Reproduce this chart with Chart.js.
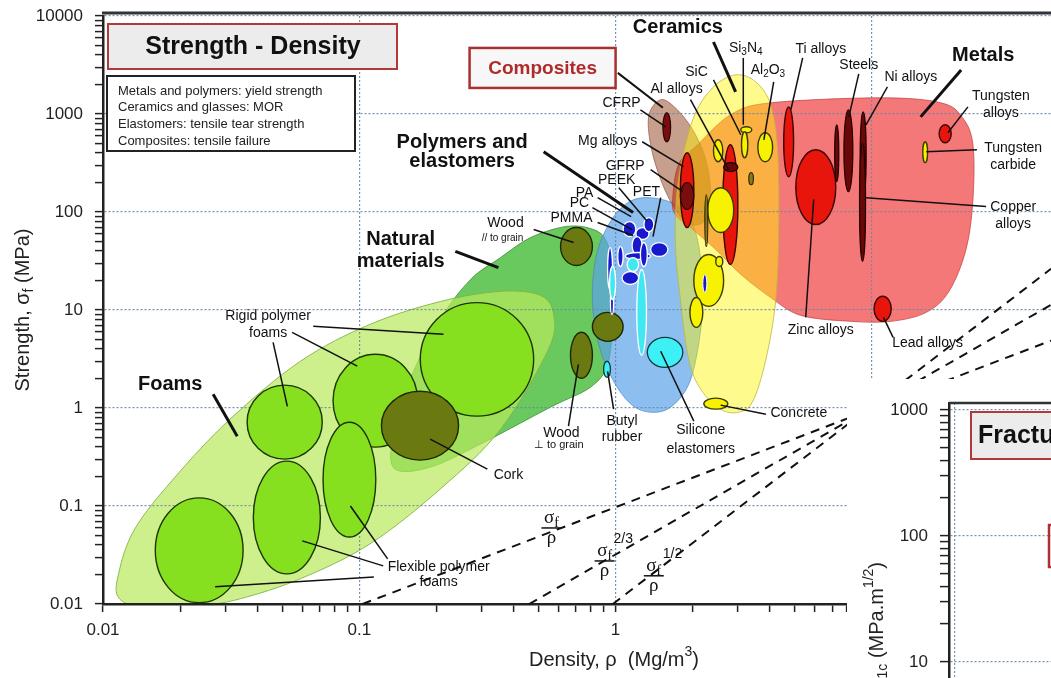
<!DOCTYPE html>
<html>
<head>
<meta charset="utf-8">
<title>Strength - Density</title>
<script src="https://cdn.jsdelivr.net/npm/chart.js@4.4.1/dist/chart.umd.min.js"></script>
<style>
  html, body { margin: 0; padding: 0; background: #fff; }
  #wrap { position: relative; width: 1051px; height: 678px; overflow: hidden; }
  #main { position: absolute; left: 0; top: 0; }
  #inset { position: absolute; left: 847px; top: 379px; background: #fff; }
</style>
</head>
<body>
<div id="wrap">
  <canvas id="main" width="1051" height="678"></canvas>
  <canvas id="inset" width="204" height="299"></canvas>
</div>
<script>
// values: density in Mg/m3, strength in MPa
const xTickLabels = ['0.01', '0.1', '1', '10'];
const yTickLabels = ['0.01', '0.1', '1', '10', '100', '1000', '10000'];
const insetTickLabels = ['10', '100', '1000'];

// family envelopes, outline points [density, strength]
const naturalEnvelope = [[0.138,0.238],[0.135,0.481],[0.158,1.96],[0.207,8.02],[0.272,20.5],[0.356,34.3],[0.466,54.8],[0.638,71],[0.798,67.8],[0.914,52.4],[0.973,25.9],[0.973,8.02],[0.931,2.79],[0.798,1.63],[0.557,1.02],[0.297,0.428],[0.189,0.249]];
const foamsEnvelope = [[0.0116,0.0113],[0.0115,0.0203],[0.0133,0.0583],[0.0191,0.197],[0.0313,0.769],[0.0589,3.0],[0.110,7.13],[0.207,12.2],[0.356,15.5],[0.509,14.1],[0.573,9.0],[0.547,3.97],[0.356,0.608],[0.207,0.149],[0.110,0.041],[0.0589,0.0181],[0.0343,0.0113],[0.0239,0.0096],[0.0153,0.0089]];
const polymersEnvelope = [[1.35,140],[1.71,119],[2.00,74.5],[2.15,32.8],[2.19,12.8],[2.11,4.47],[1.93,1.75],[1.64,1.02],[1.37,0.906],[1.15,1.09],[0.973,1.96],[0.859,4.47],[0.812,12.8],[0.843,36.8],[0.955,79.8],[1.12,125]];
const metalsEnvelope = [[1.67,134],[1.76,304],[2.09,485],[2.81,982],[4.03,1300],[10.8,1462],[18.6,1300],[22.6,914],[24.8,485],[24.8,134],[23.3,41.4],[20.0,15.5],[16.3,9.46],[11.9,7.66],[8.28,7.66],[5.28,8.81],[4.03,13.4],[3.08,23.1],[2.46,41.4],[1.96,69.4],[1.71,94.3]];
const compositesEnvelope = [[1.50,1397],[1.71,1156],[2.00,690],[2.25,342],[2.35,150],[2.25,83.7],[1.96,74.5],[1.71,106],[1.50,214],[1.37,485],[1.35,982]];
const ceramicsEnvelope = [[2.94,2508],[3.52,2128],[4.03,1242],[4.29,432],[4.33,66.2],[4.22,12.8],[3.86,3.14],[3.43,1.17],[3.02,0.906],[2.57,0.973],[2.15,1.55],[1.93,3.14],[1.79,12.8],[1.71,52.4],[1.76,214],[2.00,873],[2.39,1849]];

// material bubbles: [name, density low, density high, strength low, strength high]
const foamBubbles = [
  ['Rigid foam a', 0.173, 0.479, 0.826, 11.9],
  ['Rigid foam b', 0.079, 0.169, 0.399, 3.53],
  ['Rigid foam c', 0.0365, 0.0717, 0.301, 1.71],
  ['Flexible foam a', 0.0160, 0.0352, 0.0103, 0.121],
  ['Flexible foam b', 0.0386, 0.0705, 0.0203, 0.287],
  ['Flexible foam c', 0.0722, 0.116, 0.0483, 0.716]
];
const naturalBubbles = [
  ['Cork', 0.122, 0.244, 0.294, 1.48],
  ['Wood // grain', 0.610, 0.812, 28.5, 69.4],
  ['Wood perp grain', 0.667, 0.812, 2.01, 5.92],
  ['Wood low density', 0.812, 1.07, 4.79, 9.46]
];
const polymerBubbles = [
  ['Polymer a', 1.07, 1.20, 56.2, 79.8],
  ['Polymer b', 1.20, 1.35, 52.4, 69.4],
  ['PEEK', 1.29, 1.41, 63.1, 87.7],
  ['Polymer c', 1.16, 1.27, 36.8, 56.2],
  ['Polymer d', 1.37, 1.60, 35.2, 48.8],
  ['Polymer e', 1.09, 1.37, 32.8, 38.6],
  ['Polymer f', 1.02, 1.07, 27.8, 44.4],
  ['Polymer g', 1.25, 1.33, 27.8, 48.8],
  ['Polymer h', 0.931, 0.973, 16.2, 43.4],
  ['Polymer i', 1.06, 1.23, 18.2, 24.7],
  ['Polymer j', 0.955, 0.982, 9.0, 16.2]
];
const polymerLightBubbles = [
  ['Light a', 1.11, 1.23, 24.7, 34.3],
  ['Light b', 0.948, 1.0, 12.8, 27.8],
  ['Light c', 1.21, 1.32, 3.45, 25.9]
];
const elastomerBubbles = [
  ['Butyl rubber', 0.898, 0.955, 2.06, 3.0],
  ['Silicone elastomers', 1.33, 1.83, 2.60, 5.26]
];
const metalBubbles = [
  ['Mg alloys', 1.79, 2.02, 69.4, 403],
  ['Al alloys', 2.62, 3.00, 29.1, 485],
  ['Ti alloys', 4.53, 4.95, 229, 1183],
  ['Zinc alloys', 5.05, 7.23, 74.5, 432],
  ['Tungsten alloys', 18.3, 20.4, 509, 776],
  ['Lead alloys', 10.2, 11.9, 7.66, 13.8]
];
const darkMetalBubbles = [
  ['Al alloys core', 2.64, 3.00, 258, 319],
  ['Cast irons', 7.16, 7.43, 204, 776],
  ['Steels', 7.78, 8.43, 161, 1104],
  ['Ni alloys', 9.0, 9.5, 140, 1051],
  ['Copper alloys', 8.95, 9.45, 31.3, 500]
];
const compositeBubbles = [
  ['CFRP', 1.53, 1.64, 521, 1028],
  ['GFRP', 1.79, 2.02, 106, 199]
];
const ceramicBubbles = [
  ['Si3N4', 3.08, 3.40, 644, 741],
  ['SiC', 3.10, 3.28, 358, 659],
  ['Al2O3', 3.59, 4.10, 326, 644],
  ['Ceramic a', 2.41, 2.62, 326, 546],
  ['Ceramic b', 2.29, 2.89, 61.7, 177],
  ['Ceramic c', 2.02, 2.64, 10.9, 36.8],
  ['Ceramic d', 2.46, 2.62, 27.8, 35.2],
  ['Ceramic e', 1.95, 2.19, 6.65, 13.4],
  ['Concrete', 2.21, 2.74, 0.973, 1.26],
  ['Tungsten carbide', 15.8, 16.5, 319, 521]
];
const ceramicDarkBubbles = [
  ['Dark a', 3.31, 3.45, 190, 252],
  ['Dark b', 2.23, 2.29, 44.4, 150]
];
const glassBubbles = [
  ['Glass', 2.19, 2.27, 15.1, 23.1]
];

// performance-index guide lines, end points [density, strength]
const guideSlope1 = [[0.103, 0.01], [50, 4.87]];
const guideSlope15 = [[0.46, 0.01], [50, 11.3]];
const guideSlope2 = [[0.976, 0.01], [50, 26.3]];

// ---- styles ----
const FONT = "'Liberation Sans', Arial, sans-serif";
const SERIF = "'Liberation Serif', 'DejaVu Serif', serif";
const GRID = 'rgba(105,135,165,0.9)';
Chart.defaults.font.family = FONT;

const envelopes = [
  { pts: naturalEnvelope, fill: 'rgba(41,176,26,0.7)', stroke: 'rgba(60,140,50,0.8)' },
  { pts: foamsEnvelope, fill: 'rgba(184,234,91,0.7)', stroke: 'rgba(130,180,70,0.9)' },
  { pts: polymersEnvelope, fill: 'rgba(91,162,234,0.7)', stroke: 'rgba(80,130,190,0.7)' },
  { pts: metalsEnvelope, fill: 'rgba(241,62,62,0.7)', stroke: 'rgba(190,60,60,0.7)' },
  { pts: compositesEnvelope, fill: 'rgba(146,64,28,0.5)', stroke: 'rgba(140,90,70,0.7)' },
  { pts: ceramicsEnvelope, fill: 'rgba(255,243,0,0.45)', stroke: 'rgba(190,180,60,0.8)' }
];
const bubbleSets = [
  { list: foamBubbles, fill: '#86e020', stroke: '#1c3606', lw: 1.4 },
  { list: naturalBubbles, fill: '#6b7a10', stroke: '#1e2804', lw: 1.4 },
  { list: polymerBubbles, fill: '#1818cc', stroke: '#ffffff', lw: 1.3 },
  { list: polymerLightBubbles, fill: '#40e8f2', stroke: '#ffffff', lw: 1.3 },
  { list: elastomerBubbles, fill: '#3cf0f6', stroke: '#123838', lw: 1.3 },
  { list: metalBubbles, fill: '#e8150d', stroke: '#3a0404', lw: 1.4 },
  { list: darkMetalBubbles, fill: '#6a0707', stroke: '#1e0000', lw: 1.2 },
  { list: compositeBubbles, fill: '#7a0e0e', stroke: '#2a0404', lw: 1.2 },
  { list: ceramicBubbles, fill: '#f6f200', stroke: '#3a3a04', lw: 1.4 },
  { list: ceramicDarkBubbles, fill: '#8a7a1a', stroke: '#2a2404', lw: 1.1 },
  { list: glassBubbles, fill: '#1818cc', stroke: '#ffffff', lw: 1 }
];

// annotations anchored in data coordinates
const labels = [
  { lines: ['Ceramics'], at: [1.75, 7550], size: 20, bold: true },
  { lines: ['CFRP'], at: [1.055, 1300] },
  { lines: ['Al alloys'], at: [1.73, 1806] },
  { lines: ['SiC'], at: [2.07, 2692] },
  { lines: ['Si_3N_4'], at: [3.22, 4720] },
  { lines: ['Al_2O_3'], at: [3.93, 2818] },
  { lines: ['Ti alloys'], at: [6.32, 4615] },
  { lines: ['Steels'], at: [8.89, 3170] },
  { lines: ['Ni alloys'], at: [14.2, 2393] },
  { lines: ['Metals'], at: [27.2, 3920], size: 20, bold: true },
  { lines: ['Tungsten', 'alloys'], at: [31.9, 1242], gap: 17 },
  { lines: ['Tungsten', 'carbide'], at: [35.6, 366], gap: 17 },
  { lines: ['Copper', 'alloys'], at: [35.6, 91.8], gap: 17 },
  { lines: ['Zinc alloys'], at: [6.32, 6.19] },
  { lines: ['Lead alloys'], at: [16.5, 4.57] },
  { lines: ['Mg alloys'], at: [0.931, 533] },
  { lines: ['GFRP'], at: [1.09, 297] },
  { lines: ['PEEK'], at: [1.01, 209] },
  { lines: ['PET'], at: [1.32, 158] },
  { lines: ['PA'], at: [0.757, 154] },
  { lines: ['PC'], at: [0.723, 122] },
  { lines: ['PMMA'], at: [0.673, 85.7] },
  { lines: ['Polymers and', 'elastomers'], at: [0.252, 412], size: 20, bold: true, gap: 19 },
  { lines: ['Wood'], at: [0.372, 77] },
  { lines: ['// to grain'], at: [0.362, 54.5], size: 10 },
  { lines: ['Natural', 'materials'], at: [0.145, 40.5], size: 20, bold: true, gap: 22 },
  { lines: ['Rigid polymer', 'foams'], at: [0.0441, 7.13], gap: 17 },
  { lines: ['Foams'], at: [0.0183, 1.75], size: 20, bold: true },
  { lines: ['Cork'], at: [0.382, 0.207] },
  { lines: ['Flexible polymer', 'foams'], at: [0.204, 0.0198], gap: 15 },
  { lines: ['Wood'], at: [0.615, 0.56] },
  { lines: ['\u22a5 to grain'], at: [0.60, 0.42], size: 11 },
  { lines: ['Butyl', 'rubber'], at: [1.06, 0.608], gap: 16 },
  { lines: ['Silicone', 'elastomers'], at: [2.15, 0.481], gap: 19 },
  { lines: ['Concrete'], at: [5.19, 0.885] }
];
const leaders = [
  [[2.41, 5430], [2.94, 1683], 3],
  [[1.02, 2630], [1.53, 1156], 2],
  [[1.25, 1104], [1.57, 741], 1.5],
  [[1.96, 1400], [2.76, 270], 1.5],
  [[2.41, 2230], [3.08, 614], 1.5],
  [[3.15, 3733], [3.15, 776], 1.5],
  [[4.14, 2128], [3.79, 546], 1.5],
  [[5.37, 3733], [4.83, 1104], 1.5],
  [[8.89, 2565], [8.13, 935], 1.5],
  [[11.5, 1893], [9.49, 776], 1.5],
  [[22.3, 2818], [15.5, 935], 3],
  [[23.7, 1183], [19.8, 644], 1.5],
  [[25.7, 432], [16.3, 412], 1.5],
  [[27.9, 113.5], [9.49, 140], 1.5],
  [[5.93, 134], [5.52, 8.41], 1.5],
  [[11.1, 8.41], [12.1, 5.26], 1.5],
  [[1.27, 521], [1.84, 290], 1.5],
  [[1.37, 270], [1.83, 161], 1.5],
  [[1.03, 177], [1.33, 79.8], 1.5],
  [[1.50, 140], [1.40, 56.2], 1.5],
  [[0.851, 140], [1.15, 89.8], 1.5],
  [[0.812, 111], [1.16, 66.2], 1.5],
  [[0.851, 78], [1.17, 57.5], 1.5],
  [[0.524, 412], [1.17, 98.6], 3],
  [[0.479, 66.2], [0.686, 48.8], 1.5],
  [[0.237, 39.6], [0.349, 27.1], 3],
  [[0.0661, 6.81], [0.213, 5.65], 1.5],
  [[0.0547, 5.92], [0.0982, 2.67], 1.5],
  [[0.0461, 4.68], [0.0524, 1.04], 1.5],
  [[0.0269, 1.38], [0.0334, 0.516], 3],
  [[0.316, 0.238], [0.189, 0.481], 1.5],
  [[0.124, 0.0245], [0.0599, 0.0441], 1.5],
  [[0.129, 0.0289], [0.0923, 0.1], 1.5],
  [[0.114, 0.0189], [0.0274, 0.0150], 1.5],
  [[0.655, 0.653], [0.716, 2.79], 1.5],
  [[0.982, 0.973], [0.931, 2.37], 1.5],
  [[2.02, 0.735], [1.50, 3.79], 1.5],
  [[3.86, 0.865], [2.57, 1.07], 1.5]
];
const guideLabels = [
  { exp: '', at: [0.562, 0.0597] },
  { exp: '2/3', at: [0.906, 0.0275] },
  { exp: '1/2', at: [1.41, 0.0194] }
];

// ---- helpers ----
function logTicks(labels, max) {
  const majors = labels.map(Number);
  const ticks = [];
  majors.forEach(m => {
    ticks.push({ value: m, major: true });
    for (let k = 2; k <= 9; k++) {
      const v = m * k;
      if (v <= max * 1.0001) ticks.push({ value: v, major: false });
    }
  });
  return ticks.filter(t => t.value <= max * 1.0001);
}
function tickLabel(labels) {
  const majors = labels.map(Number);
  return function (value) {
    const i = majors.findIndex(m => Math.abs(m - value) / m < 1e-6);
    return i >= 0 ? labels[i] : '';
  };
}
function richParts(str) {
  const parts = [];
  let i = 0;
  while (i < str.length) {
    const c = str[i];
    if ((c === '_' || c === '^') && i + 1 < str.length) {
      let t;
      if (str[i + 1] === '{') { const j = str.indexOf('}', i); t = str.slice(i + 2, j); i = j + 1; }
      else { t = str[i + 1]; i += 2; }
      parts.push({ t, mode: c });
    } else {
      let j = i;
      while (j < str.length && str[j] !== '_' && str[j] !== '^') j++;
      parts.push({ t: str.slice(i, j), mode: '' });
      i = j;
    }
  }
  return parts;
}
function drawRich(ctx, str, x, y, size, weight, align, family) {
  const parts = richParts(str);
  const fontOf = p => `${weight} ${p.mode ? Math.round(size * 0.72) : size}px ${family || FONT}`;
  let w = 0;
  for (const p of parts) { ctx.font = fontOf(p); p.w = ctx.measureText(p.t).width; w += p.w; }
  let cx = align === 'center' ? x - w / 2 : align === 'right' ? x - w : x;
  ctx.textAlign = 'left';
  ctx.textBaseline = 'middle';
  for (const p of parts) {
    ctx.font = fontOf(p);
    const dy = p.mode === '_' ? size * 0.3 : p.mode === '^' ? -size * 0.38 : 0;
    ctx.fillText(p.t, cx, y + dy);
    cx += p.w;
  }
}
function toPx(chart, p) {
  return [chart.scales.x.getPixelForValue(p[0]), chart.scales.y.getPixelForValue(p[1])];
}
function smoothPath(ctx, pts) {
  const n = pts.length;
  ctx.beginPath();
  ctx.moveTo(pts[0][0], pts[0][1]);
  for (let i = 0; i < n; i++) {
    const p0 = pts[(i - 1 + n) % n], p1 = pts[i], p2 = pts[(i + 1) % n], p3 = pts[(i + 2) % n];
    ctx.bezierCurveTo(
      p1[0] + (p2[0] - p0[0]) / 6, p1[1] + (p2[1] - p0[1]) / 6,
      p2[0] - (p3[0] - p1[0]) / 6, p2[1] - (p3[1] - p1[1]) / 6,
      p2[0], p2[1]);
  }
  ctx.closePath();
}
function clipArea(chart) {
  const a = chart.chartArea;
  chart.ctx.beginPath();
  chart.ctx.rect(a.left, a.top, a.right - a.left, a.bottom - a.top);
  chart.ctx.clip();
}
// keep the plot area where the picture has it: no extra room for edge labels
function noEdgePadding(s) {
  s.paddingTop = 0; s.paddingBottom = 0; s.paddingLeft = 0; s.paddingRight = 0;
}

// envelopes go under the grid, bubbles on top of it
const envelopePlugin = {
  id: 'envelopes',
  beforeDraw(chart) {
    const ctx = chart.ctx;
    ctx.save();
    clipArea(chart);
    for (const env of envelopes) {
      smoothPath(ctx, env.pts.map(p => toPx(chart, p)));
      ctx.fillStyle = env.fill;
      ctx.fill();
      ctx.lineWidth = 1;
      ctx.strokeStyle = env.stroke;
      ctx.stroke();
    }
    ctx.restore();
  }
};
const bubblePlugin = {
  id: 'bubbles',
  beforeDatasetsDraw(chart) {
    const ctx = chart.ctx;
    ctx.save();
    clipArea(chart);
    for (const set of bubbleSets) {
      for (const b of set.list) {
        const [x1, y1] = toPx(chart, [b[1], b[3]]);
        const [x2, y2] = toPx(chart, [b[2], b[4]]);
        ctx.beginPath();
        ctx.ellipse((x1 + x2) / 2, (y1 + y2) / 2, Math.max(Math.abs(x2 - x1) / 2, 1), Math.max(Math.abs(y2 - y1) / 2, 1), 0, 0, Math.PI * 2);
        ctx.fillStyle = set.fill;
        ctx.fill();
        ctx.lineWidth = set.lw;
        ctx.strokeStyle = set.stroke;
        ctx.stroke();
      }
    }
    ctx.restore();
  }
};
const annotationPlugin = {
  id: 'annotations',
  afterDatasetsDraw(chart) {
    const ctx = chart.ctx;
    ctx.save();
    ctx.lineCap = 'butt';
    ctx.strokeStyle = '#111';
    for (const [p, q, w] of leaders) {
      const [x1, y1] = toPx(chart, p), [x2, y2] = toPx(chart, q);
      ctx.lineWidth = w;
      ctx.beginPath();
      ctx.moveTo(x1, y1);
      ctx.lineTo(x2, y2);
      ctx.stroke();
    }
    ctx.fillStyle = '#111';
    for (const l of labels) {
      const [x, y] = toPx(chart, l.at);
      const size = l.size || 14;
      const gap = l.gap || size * 1.15;
      const y0 = y - gap * (l.lines.length - 1) / 2;
      l.lines.forEach((t, i) => drawRich(ctx, t, x, y0 + i * gap, size, l.bold ? 'bold' : 'normal', 'center'));
    }
    // guide line indices
    for (const g of guideLabels) {
      const [x, y] = toPx(chart, g.at);
      drawRich(ctx, '\u03c3_f', x, y - 10, 19, 'normal', 'center', SERIF);
      ctx.lineWidth = 1.5;
      ctx.beginPath();
      ctx.moveTo(x - 10, y);
      ctx.lineTo(x + 10, y);
      ctx.stroke();
      drawRich(ctx, '\u03c1', x, y + 10, 19, 'normal', 'center', SERIF);
      if (g.exp) drawRich(ctx, g.exp, x + 9, y - 22, 14, 'normal', 'left');
    }
    // "Composites" family tag
    const [cx, cy] = toPx(chart, [0.519, 2951]);
    ctx.fillStyle = '#f7f7f7';
    ctx.fillRect(cx - 73, cy - 20, 146, 40);
    ctx.lineWidth = 2.5;
    ctx.strokeStyle = '#a83030';
    ctx.strokeRect(cx - 73, cy - 20, 146, 40);
    ctx.fillStyle = '#b02a2a';
    drawRich(ctx, 'Composites', cx, cy + 1, 19, 'bold', 'center');
    ctx.restore();
  },
  afterDraw(chart) {
    const ctx = chart.ctx;
    const a = chart.chartArea;
    ctx.save();
    // top frame
    ctx.strokeStyle = '#333';
    ctx.lineWidth = 3;
    ctx.beginPath();
    ctx.moveTo(a.left - 1, a.top - 3);
    ctx.lineTo(a.right, a.top - 3);
    ctx.stroke();
    // title box
    ctx.fillStyle = '#ececec';
    ctx.fillRect(a.left + 5, a.top + 8, 289, 45);
    ctx.strokeStyle = '#b03a3a';
    ctx.lineWidth = 2;
    ctx.strokeRect(a.left + 5, a.top + 8, 289, 45);
    ctx.fillStyle = '#111';
    drawRich(ctx, 'Strength - Density', a.left + 150, a.top + 31, 25, 'bold', 'center');
    // note box
    ctx.fillStyle = '#fff';
    ctx.fillRect(a.left + 4, a.top + 60, 248, 75);
    ctx.strokeStyle = '#222';
    ctx.strokeRect(a.left + 4, a.top + 60, 248, 75);
    ctx.fillStyle = '#222';
    ['Metals and polymers: yield strength', 'Ceramics and glasses: MOR', 'Elastomers: tensile tear strength', 'Composites: tensile failure']
      .forEach((t, i) => drawRich(ctx, t, a.left + 15, a.top + 75 + i * 16.7, 13, 'normal', 'left'));
    // axis titles
    ctx.fillStyle = '#222';
    drawRich(ctx, 'Density, \u03c1  (Mg/m^3)', 614, a.bottom + 56, 20, 'normal', 'center');
    ctx.translate(23, (a.top + a.bottom) / 2);
    ctx.rotate(-Math.PI / 2);
    drawRich(ctx, 'Strength, \u03c3_f (MPa)', 0, 0, 20, 'normal', 'center');
    ctx.restore();
  }
};

const gridColor = c => (c.tick && c.tick.major ? GRID : 'rgba(0,0,0,0)');

new Chart(document.getElementById('main'), {
  type: 'scatter',
  data: {
    datasets: [guideSlope1, guideSlope15, guideSlope2].map(line => ({
      data: line.map(p => ({ x: p[0], y: p[1] })),
      showLine: true,
      borderColor: '#111',
      borderWidth: 2,
      borderDash: [9, 7],
      pointRadius: 0
    }))
  },
  options: {
    responsive: false,
    animation: false,
    devicePixelRatio: 1,
    layout: { padding: { top: 16, left: 0, right: 0, bottom: 0 } },
    plugins: { legend: { display: false }, tooltip: { enabled: false } },
    scales: {
      x: {
        type: 'logarithmic', min: 0.01, max: 50,
        afterBuildTicks: s => { s.ticks = logTicks(xTickLabels, 50); },
        afterFit: s => { s.height = 74; noEdgePadding(s); },
        ticks: { autoSkip: false, maxRotation: 0, padding: 8, color: '#222', font: { size: 17 }, callback: tickLabel(xTickLabels) },
        grid: { color: gridColor, lineWidth: 1.2, tickColor: '#222', tickLength: 8, tickWidth: 1.5 },
        border: { display: true, color: '#222', width: 2.5, dash: [2, 2] }
      },
      y: {
        type: 'logarithmic', min: 0.01, max: 10000,
        afterBuildTicks: s => { s.ticks = logTicks(yTickLabels, 10000); },
        afterFit: s => { s.width = 103; noEdgePadding(s); },
        ticks: { autoSkip: false, padding: 12, color: '#222', font: { size: 17 }, callback: tickLabel(yTickLabels) },
        grid: { color: gridColor, lineWidth: 1.2, tickColor: '#222', tickLength: 8, tickWidth: 1.5 },
        border: { display: true, color: '#222', width: 2.5, dash: [2, 2] }
      }
    }
  },
  plugins: [envelopePlugin, bubblePlugin, annotationPlugin]
});

// cropped neighbouring chart (fracture toughness) at lower right
const insetPlugin = {
  id: 'insetDecor',
  afterDraw(chart) {
    const ctx = chart.ctx;
    const a = chart.chartArea;
    ctx.save();
    ctx.strokeStyle = '#333';
    ctx.lineWidth = 2.5;
    ctx.beginPath();
    ctx.moveTo(a.left, a.top);
    ctx.lineTo(a.right, a.top);
    ctx.stroke();
    ctx.fillStyle = '#ececec';
    ctx.fillRect(a.left + 22, a.top + 9, 300, 47);
    ctx.strokeStyle = '#b03a3a';
    ctx.lineWidth = 2;
    ctx.strokeRect(a.left + 22, a.top + 9, 300, 47);
    ctx.fillStyle = '#111';
    drawRich(ctx, 'Fracture Toughness - Density', a.left + 29, a.top + 33, 25, 'bold', 'left');
    ctx.strokeStyle = '#b03030';
    ctx.lineWidth = 2.5;
    ctx.strokeRect(a.left + 100, a.top + 122, 80, 42);
    ctx.fillStyle = '#222';
    ctx.translate(30, 183);
    ctx.rotate(-Math.PI / 2);
    drawRich(ctx, 'Fracture toughness, K_{1c} (MPa.m^{1/2})', 0, 0, 20, 'normal', 'right');
    ctx.restore();
  }
};

new Chart(document.getElementById('inset'), {
  type: 'scatter',
  data: { datasets: [] },
  options: {
    responsive: false,
    animation: false,
    devicePixelRatio: 1,
    layout: { padding: { top: 24, left: 0, right: 0, bottom: 0 } },
    plugins: { legend: { display: false }, tooltip: { enabled: false } },
    scales: {
      x: {
        type: 'logarithmic', min: 0.00947, max: 0.0237,
        afterBuildTicks: s => { s.ticks = [{ value: 0.01, major: true }]; },
        afterFit: s => { s.height = 0; noEdgePadding(s); },
        ticks: { display: false },
        grid: { color: gridColor, lineWidth: 1.2, drawTicks: false },
        border: { display: false, dash: [2, 2] }
      },
      y: {
        type: 'logarithmic', min: 7.47, max: 1136,
        afterBuildTicks: s => { s.ticks = logTicks(insetTickLabels, 1136); },
        afterFit: s => { s.width = 102; noEdgePadding(s); },
        ticks: { autoSkip: false, padding: 12, color: '#222', font: { size: 17 }, callback: tickLabel(insetTickLabels) },
        grid: { color: gridColor, lineWidth: 1.2, tickColor: '#222', tickLength: 9, tickWidth: 1.5 },
        border: { display: true, color: '#222', width: 2.5, dash: [2, 2] }
      }
    }
  },
  plugins: [insetPlugin]
});
</script>
</body>
</html>
